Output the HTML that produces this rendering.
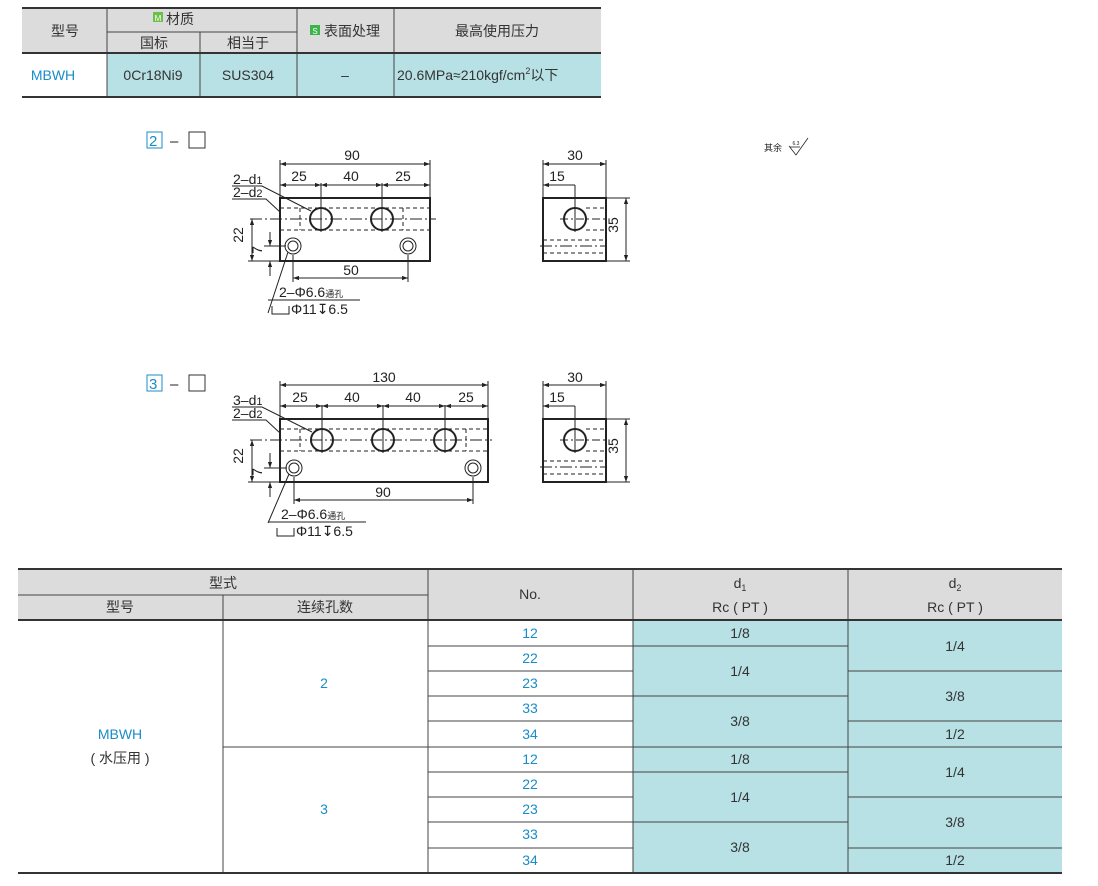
<!DOCTYPE html>
<html><head><meta charset="utf-8"><style>
html,body{margin:0;padding:0;background:#fff;}
svg{display:block;font-family:"Liberation Sans","Noto Sans CJK SC",sans-serif;}
</style></head><body>
<svg width="1098" height="886" viewBox="0 0 1098 886" xmlns="http://www.w3.org/2000/svg">
<defs>
<marker id="a" viewBox="0 0 10 10" refX="10" refY="5" markerWidth="8" markerHeight="6" orient="auto-start-reverse" markerUnits="userSpaceOnUse"><path d="M0,1.5 L10,5 L0,8.5z" fill="#222"/></marker>
</defs>

<!-- TOP TABLE -->
<rect x="22" y="8" width="579" height="45" fill="#dcdcdc"/>
<rect x="107" y="53" width="494" height="44" fill="#b8e1e5"/>
<g stroke="#444" stroke-width="1" fill="none">
<line x1="107" y1="8" x2="107" y2="97"/>
<line x1="297" y1="8" x2="297" y2="97"/>
<line x1="394" y1="8" x2="394" y2="97"/>
<line x1="200" y1="32" x2="200" y2="97"/>
<line x1="107" y1="32" x2="297" y2="32"/>
</g>
<line x1="22" y1="8" x2="601" y2="8" stroke="#333" stroke-width="2"/>
<line x1="22" y1="53" x2="601" y2="53" stroke="#333" stroke-width="2"/>
<line x1="22" y1="97" x2="601" y2="97" stroke="#333" stroke-width="2"/>
<g font-size="14" fill="#333" text-anchor="middle">
<text x="65" y="36">型号</text>
<rect x="153" y="12" width="10" height="10" fill="#6cc04a"/><text x="158" y="21" font-size="8" fill="#fff">M</text>
<text x="180" y="24">材质</text>
<text x="154" y="48">国标</text>
<text x="248" y="48">相当于</text>
<rect x="310" y="25" width="10" height="10" fill="#3cb44a"/><text x="315" y="34" font-size="8" fill="#fff">S</text>
<text x="352" y="36">表面处理</text>
<text x="497" y="36">最高使用压力</text>
<text x="53" y="80" fill="#1a8cc8">MBWH</text>
<text x="153" y="80">0Cr18Ni9</text>
<text x="248" y="80">SUS304</text>
<text x="345" y="80">–</text>
<text x="397" y="80" text-anchor="start" font-size="14">20.6MPa≈210kgf/cm<tspan font-size="9" dy="-6">2</tspan><tspan dy="6">以下</tspan></text>
</g>

<!-- DRAWING 1 -->
<g font-size="15" fill="#222">
<rect x="147" y="132" width="15" height="16" fill="none" stroke="#1a8cc8"/>
<text x="149" y="146" fill="#1a8cc8">2</text>
<text x="170" y="146">–</text>
<rect x="189" y="132" width="16" height="16" fill="none" stroke="#333"/>
</g>
<g stroke="#222" stroke-width="1" fill="none">
<rect x="280" y="198" width="150" height="63" stroke-width="2"/>
<circle cx="321" cy="219" r="11" stroke-width="2"/>
<circle cx="382" cy="219" r="11" stroke-width="2"/>
<circle cx="293" cy="246" r="8"/><circle cx="293" cy="246" r="5"/>
<circle cx="408" cy="246" r="8"/><circle cx="408" cy="246" r="5"/>
<line x1="280" y1="208" x2="430" y2="208" stroke-dasharray="4,3"/>
<line x1="280" y1="230" x2="430" y2="230" stroke-dasharray="4,3"/>
<line x1="250" y1="219" x2="436" y2="219" stroke-dasharray="12,3,2,3"/>
<line x1="300" y1="208" x2="300" y2="230" stroke-dasharray="4,3"/>
<line x1="403" y1="208" x2="403" y2="230" stroke-dasharray="4,3"/>
<line x1="321" y1="183" x2="321" y2="232"/>
<line x1="382" y1="183" x2="382" y2="232"/>
<line x1="280" y1="160" x2="280" y2="198"/>
<line x1="430" y1="160" x2="430" y2="198"/>
<line x1="280" y1="164" x2="430" y2="164" marker-start="url(#a)" marker-end="url(#a)"/>
<line x1="280" y1="185" x2="321" y2="185" marker-start="url(#a)" marker-end="url(#a)"/>
<line x1="321" y1="185" x2="382" y2="185" marker-start="url(#a)" marker-end="url(#a)"/>
<line x1="382" y1="185" x2="430" y2="185" marker-start="url(#a)" marker-end="url(#a)"/>
<line x1="293" y1="255" x2="293" y2="282"/>
<line x1="408" y1="255" x2="408" y2="282"/>
<line x1="293" y1="278" x2="408" y2="278" marker-start="url(#a)" marker-end="url(#a)"/>
<line x1="248" y1="261" x2="280" y2="261"/>
<line x1="252" y1="219" x2="252" y2="261" marker-start="url(#a)" marker-end="url(#a)"/>
<line x1="264" y1="246" x2="286" y2="246"/>
<line x1="270" y1="232" x2="270" y2="246" marker-end="url(#a)"/>
<line x1="270" y1="276" x2="270" y2="261" marker-end="url(#a)"/>
<polyline points="232,186 262,186 311,211"/>
<polyline points="232,199 266,199 280,212"/>
<polyline points="268,313 288,252"/>
<polyline points="268,300 360,300"/>
<polyline points="272,306 272,314 289,314 289,306"/>
</g>
<g font-size="14" fill="#222" text-anchor="middle">
<text x="352" y="160">90</text>
<text x="299" y="181">25</text>
<text x="351" y="181">40</text>
<text x="403" y="181">25</text>
<text x="351" y="275">50</text>
<text x="233" y="184" text-anchor="start">2–d<tspan font-size="11">1</tspan></text>
<text x="233" y="197" text-anchor="start">2–d<tspan font-size="11">2</tspan></text>
<text x="248" y="240" transform="rotate(-90 243 240)">22</text>
<text x="266" y="254" transform="rotate(-90 262 254)">7</text>
<text x="279" y="297" text-anchor="start">2–Φ6.6<tspan font-size="9">通孔</tspan></text>
<text x="291" y="314" text-anchor="start">Φ11↧6.5</text>
</g>
<!-- side 1 -->
<g stroke="#222" stroke-width="1" fill="none">
<rect x="543" y="198" width="63" height="63" stroke-width="2"/>
<circle cx="575" cy="219" r="11" stroke-width="2"/>
<line x1="586" y1="208" x2="606" y2="208" stroke-dasharray="4,3"/>
<line x1="586" y1="230" x2="606" y2="230" stroke-dasharray="4,3"/>
<line x1="560" y1="219" x2="606" y2="219" stroke-dasharray="8,3,2,3"/>
<line x1="543" y1="240" x2="606" y2="240" stroke-dasharray="4,3"/>
<line x1="543" y1="253" x2="606" y2="253" stroke-dasharray="4,3"/>
<line x1="540" y1="246" x2="606" y2="246" stroke-dasharray="12,3,2,3"/>
<line x1="575" y1="185" x2="575" y2="232"/>
<line x1="543" y1="160" x2="543" y2="198"/>
<line x1="606" y1="160" x2="606" y2="198"/>
<line x1="543" y1="164" x2="606" y2="164" marker-start="url(#a)" marker-end="url(#a)"/>
<line x1="543" y1="185" x2="575" y2="185" marker-start="url(#a)"/>
<line x1="606" y1="198" x2="630" y2="198"/>
<line x1="606" y1="261" x2="630" y2="261"/>
<line x1="626" y1="198" x2="626" y2="261" marker-start="url(#a)" marker-end="url(#a)"/>
</g>
<g font-size="14" fill="#222" text-anchor="middle">
<text x="575" y="160">30</text>
<text x="557" y="181">15</text>
<text x="623" y="230" transform="rotate(-90 618 230)">35</text>
<text x="773" y="151" font-size="9">其余</text>
<text x="796" y="145" font-size="5">6.3</text>
</g>
<polyline points="789,146 796,155 808,138" fill="none" stroke="#222" stroke-width="0.8"/>
<line x1="790" y1="147" x2="800" y2="147" stroke="#222" stroke-width="0.8"/>

<!-- DRAWING 2 -->
<g font-size="15" fill="#222">
<rect x="147" y="375" width="15" height="16" fill="none" stroke="#1a8cc8"/>
<text x="149" y="389" fill="#1a8cc8">3</text>
<text x="170" y="389">–</text>
<rect x="189" y="375" width="16" height="16" fill="none" stroke="#333"/>
</g>
<g stroke="#222" stroke-width="1" fill="none">
<rect x="280" y="419" width="208" height="63" stroke-width="2"/>
<circle cx="322" cy="440" r="11" stroke-width="2"/>
<circle cx="383" cy="440" r="11" stroke-width="2"/>
<circle cx="445" cy="440" r="11" stroke-width="2"/>
<circle cx="294" cy="468" r="8"/><circle cx="294" cy="468" r="5"/>
<circle cx="473" cy="468" r="8"/><circle cx="473" cy="468" r="5"/>
<line x1="280" y1="429" x2="488" y2="429" stroke-dasharray="4,3"/>
<line x1="280" y1="451" x2="488" y2="451" stroke-dasharray="4,3"/>
<line x1="250" y1="440" x2="492" y2="440" stroke-dasharray="12,3,2,3"/>
<line x1="300" y1="429" x2="300" y2="451" stroke-dasharray="4,3"/>
<line x1="466" y1="429" x2="466" y2="451" stroke-dasharray="4,3"/>
<line x1="322" y1="405" x2="322" y2="453"/>
<line x1="383" y1="405" x2="383" y2="453"/>
<line x1="445" y1="405" x2="445" y2="453"/>
<line x1="280" y1="381" x2="280" y2="419"/>
<line x1="488" y1="381" x2="488" y2="419"/>
<line x1="280" y1="385" x2="488" y2="385" marker-start="url(#a)" marker-end="url(#a)"/>
<line x1="280" y1="406" x2="322" y2="406" marker-start="url(#a)" marker-end="url(#a)"/>
<line x1="322" y1="406" x2="383" y2="406" marker-start="url(#a)" marker-end="url(#a)"/>
<line x1="383" y1="406" x2="445" y2="406" marker-start="url(#a)" marker-end="url(#a)"/>
<line x1="445" y1="406" x2="488" y2="406" marker-start="url(#a)" marker-end="url(#a)"/>
<line x1="294" y1="477" x2="294" y2="504"/>
<line x1="473" y1="477" x2="473" y2="504"/>
<line x1="294" y1="500" x2="473" y2="500" marker-start="url(#a)" marker-end="url(#a)"/>
<line x1="248" y1="482" x2="280" y2="482"/>
<line x1="252" y1="440" x2="252" y2="482" marker-start="url(#a)" marker-end="url(#a)"/>
<line x1="264" y1="468" x2="287" y2="468"/>
<line x1="270" y1="453" x2="270" y2="468" marker-end="url(#a)"/>
<line x1="270" y1="497" x2="270" y2="482" marker-end="url(#a)"/>
<polyline points="232,407 262,407 312,432"/>
<polyline points="232,420 266,420 280,433"/>
<polyline points="268,523 289,474"/>
<polyline points="268,522 366,522"/>
<polyline points="277,528 277,536 294,536 294,528"/>
</g>
<g font-size="14" fill="#222" text-anchor="middle">
<text x="384" y="382">130</text>
<text x="300" y="402">25</text>
<text x="352" y="402">40</text>
<text x="413" y="402">40</text>
<text x="466" y="402">25</text>
<text x="383" y="497">90</text>
<text x="233" y="405" text-anchor="start">3–d<tspan font-size="11">1</tspan></text>
<text x="233" y="418" text-anchor="start">2–d<tspan font-size="11">2</tspan></text>
<text x="248" y="461" transform="rotate(-90 243 461)">22</text>
<text x="266" y="476" transform="rotate(-90 262 476)">7</text>
<text x="281" y="519" text-anchor="start">2–Φ6.6<tspan font-size="9">通孔</tspan></text>
<text x="296" y="536" text-anchor="start">Φ11↧6.5</text>
</g>
<!-- side 2 -->
<g stroke="#222" stroke-width="1" fill="none">
<rect x="543" y="419" width="63" height="63" stroke-width="2"/>
<circle cx="575" cy="440" r="11" stroke-width="2"/>
<line x1="586" y1="429" x2="606" y2="429" stroke-dasharray="4,3"/>
<line x1="586" y1="451" x2="606" y2="451" stroke-dasharray="4,3"/>
<line x1="560" y1="440" x2="606" y2="440" stroke-dasharray="8,3,2,3"/>
<line x1="543" y1="461" x2="606" y2="461" stroke-dasharray="4,3"/>
<line x1="543" y1="474" x2="606" y2="474" stroke-dasharray="4,3"/>
<line x1="540" y1="467" x2="606" y2="467" stroke-dasharray="12,3,2,3"/>
<line x1="575" y1="406" x2="575" y2="453"/>
<line x1="543" y1="381" x2="543" y2="419"/>
<line x1="606" y1="381" x2="606" y2="419"/>
<line x1="543" y1="385" x2="606" y2="385" marker-start="url(#a)" marker-end="url(#a)"/>
<line x1="543" y1="406" x2="575" y2="406" marker-start="url(#a)"/>
<line x1="606" y1="419" x2="630" y2="419"/>
<line x1="606" y1="482" x2="630" y2="482"/>
<line x1="626" y1="419" x2="626" y2="482" marker-start="url(#a)" marker-end="url(#a)"/>
</g>
<g font-size="14" fill="#222" text-anchor="middle">
<text x="575" y="382">30</text>
<text x="557" y="402">15</text>
<text x="623" y="451" transform="rotate(-90 618 451)">35</text>
</g>

<!-- BOTTOM TABLE -->
<rect x="18" y="569" width="1044" height="51" fill="#dcdcdc"/>
<rect x="633" y="620" width="429" height="253" fill="#b8e1e5"/>
<g stroke="#444" stroke-width="1" fill="none">
<line x1="223" y1="595" x2="223" y2="873"/>
<line x1="428" y1="569" x2="428" y2="873"/>
<line x1="633" y1="569" x2="633" y2="873"/>
<line x1="848" y1="569" x2="848" y2="873"/>
<line x1="18" y1="595" x2="428" y2="595"/>
<line x1="223" y1="747" x2="1062" y2="747"/>
<line x1="428" y1="646" x2="848" y2="646"/>
<line x1="428" y1="671" x2="633" y2="671"/>
<line x1="428" y1="696" x2="848" y2="696"/>
<line x1="428" y1="721" x2="633" y2="721"/>
<line x1="848" y1="671" x2="1062" y2="671"/>
<line x1="848" y1="721" x2="1062" y2="721"/>
<line x1="428" y1="772" x2="848" y2="772"/>
<line x1="428" y1="797" x2="633" y2="797"/>
<line x1="428" y1="822" x2="848" y2="822"/>
<line x1="428" y1="848" x2="633" y2="848"/>
<line x1="848" y1="797" x2="1062" y2="797"/>
<line x1="848" y1="848" x2="1062" y2="848"/>
</g>
<line x1="18" y1="569" x2="1062" y2="569" stroke="#333" stroke-width="2"/>
<line x1="18" y1="620" x2="1062" y2="620" stroke="#333" stroke-width="2"/>
<line x1="18" y1="873" x2="1062" y2="873" stroke="#333" stroke-width="2"/>
<g font-size="14" fill="#333" text-anchor="middle">
<text x="223" y="588">型式</text>
<text x="120" y="612">型号</text>
<text x="325" y="612">连续孔数</text>
<text x="530" y="599">No.</text>
<text x="740" y="588">d<tspan font-size="9" dy="3">1</tspan></text>
<text x="740" y="612">Rc ( PT )</text>
<text x="955" y="588">d<tspan font-size="9" dy="3">2</tspan></text>
<text x="955" y="612">Rc ( PT )</text>
<text x="120" y="739" fill="#1a8cc8">MBWH</text>
<text x="120" y="763">( 水压用 )</text>
<g fill="#1a8cc8">
<text x="324" y="688">2</text>
<text x="324" y="814">3</text>
<text x="530" y="638">12</text><text x="530" y="663">22</text><text x="530" y="688">23</text><text x="530" y="713">33</text><text x="530" y="739">34</text>
<text x="530" y="764">12</text><text x="530" y="789">22</text><text x="530" y="814">23</text><text x="530" y="839">33</text><text x="530" y="865">34</text>
</g>
<text x="740" y="638">1/8</text><text x="740" y="676">1/4</text><text x="740" y="726">3/8</text>
<text x="955" y="651">1/4</text><text x="955" y="701">3/8</text><text x="955" y="739">1/2</text>
<text x="740" y="764">1/8</text><text x="740" y="802">1/4</text><text x="740" y="852">3/8</text>
<text x="955" y="777">1/4</text><text x="955" y="827">3/8</text><text x="955" y="865">1/2</text>
</g>
</svg>
</body></html>
